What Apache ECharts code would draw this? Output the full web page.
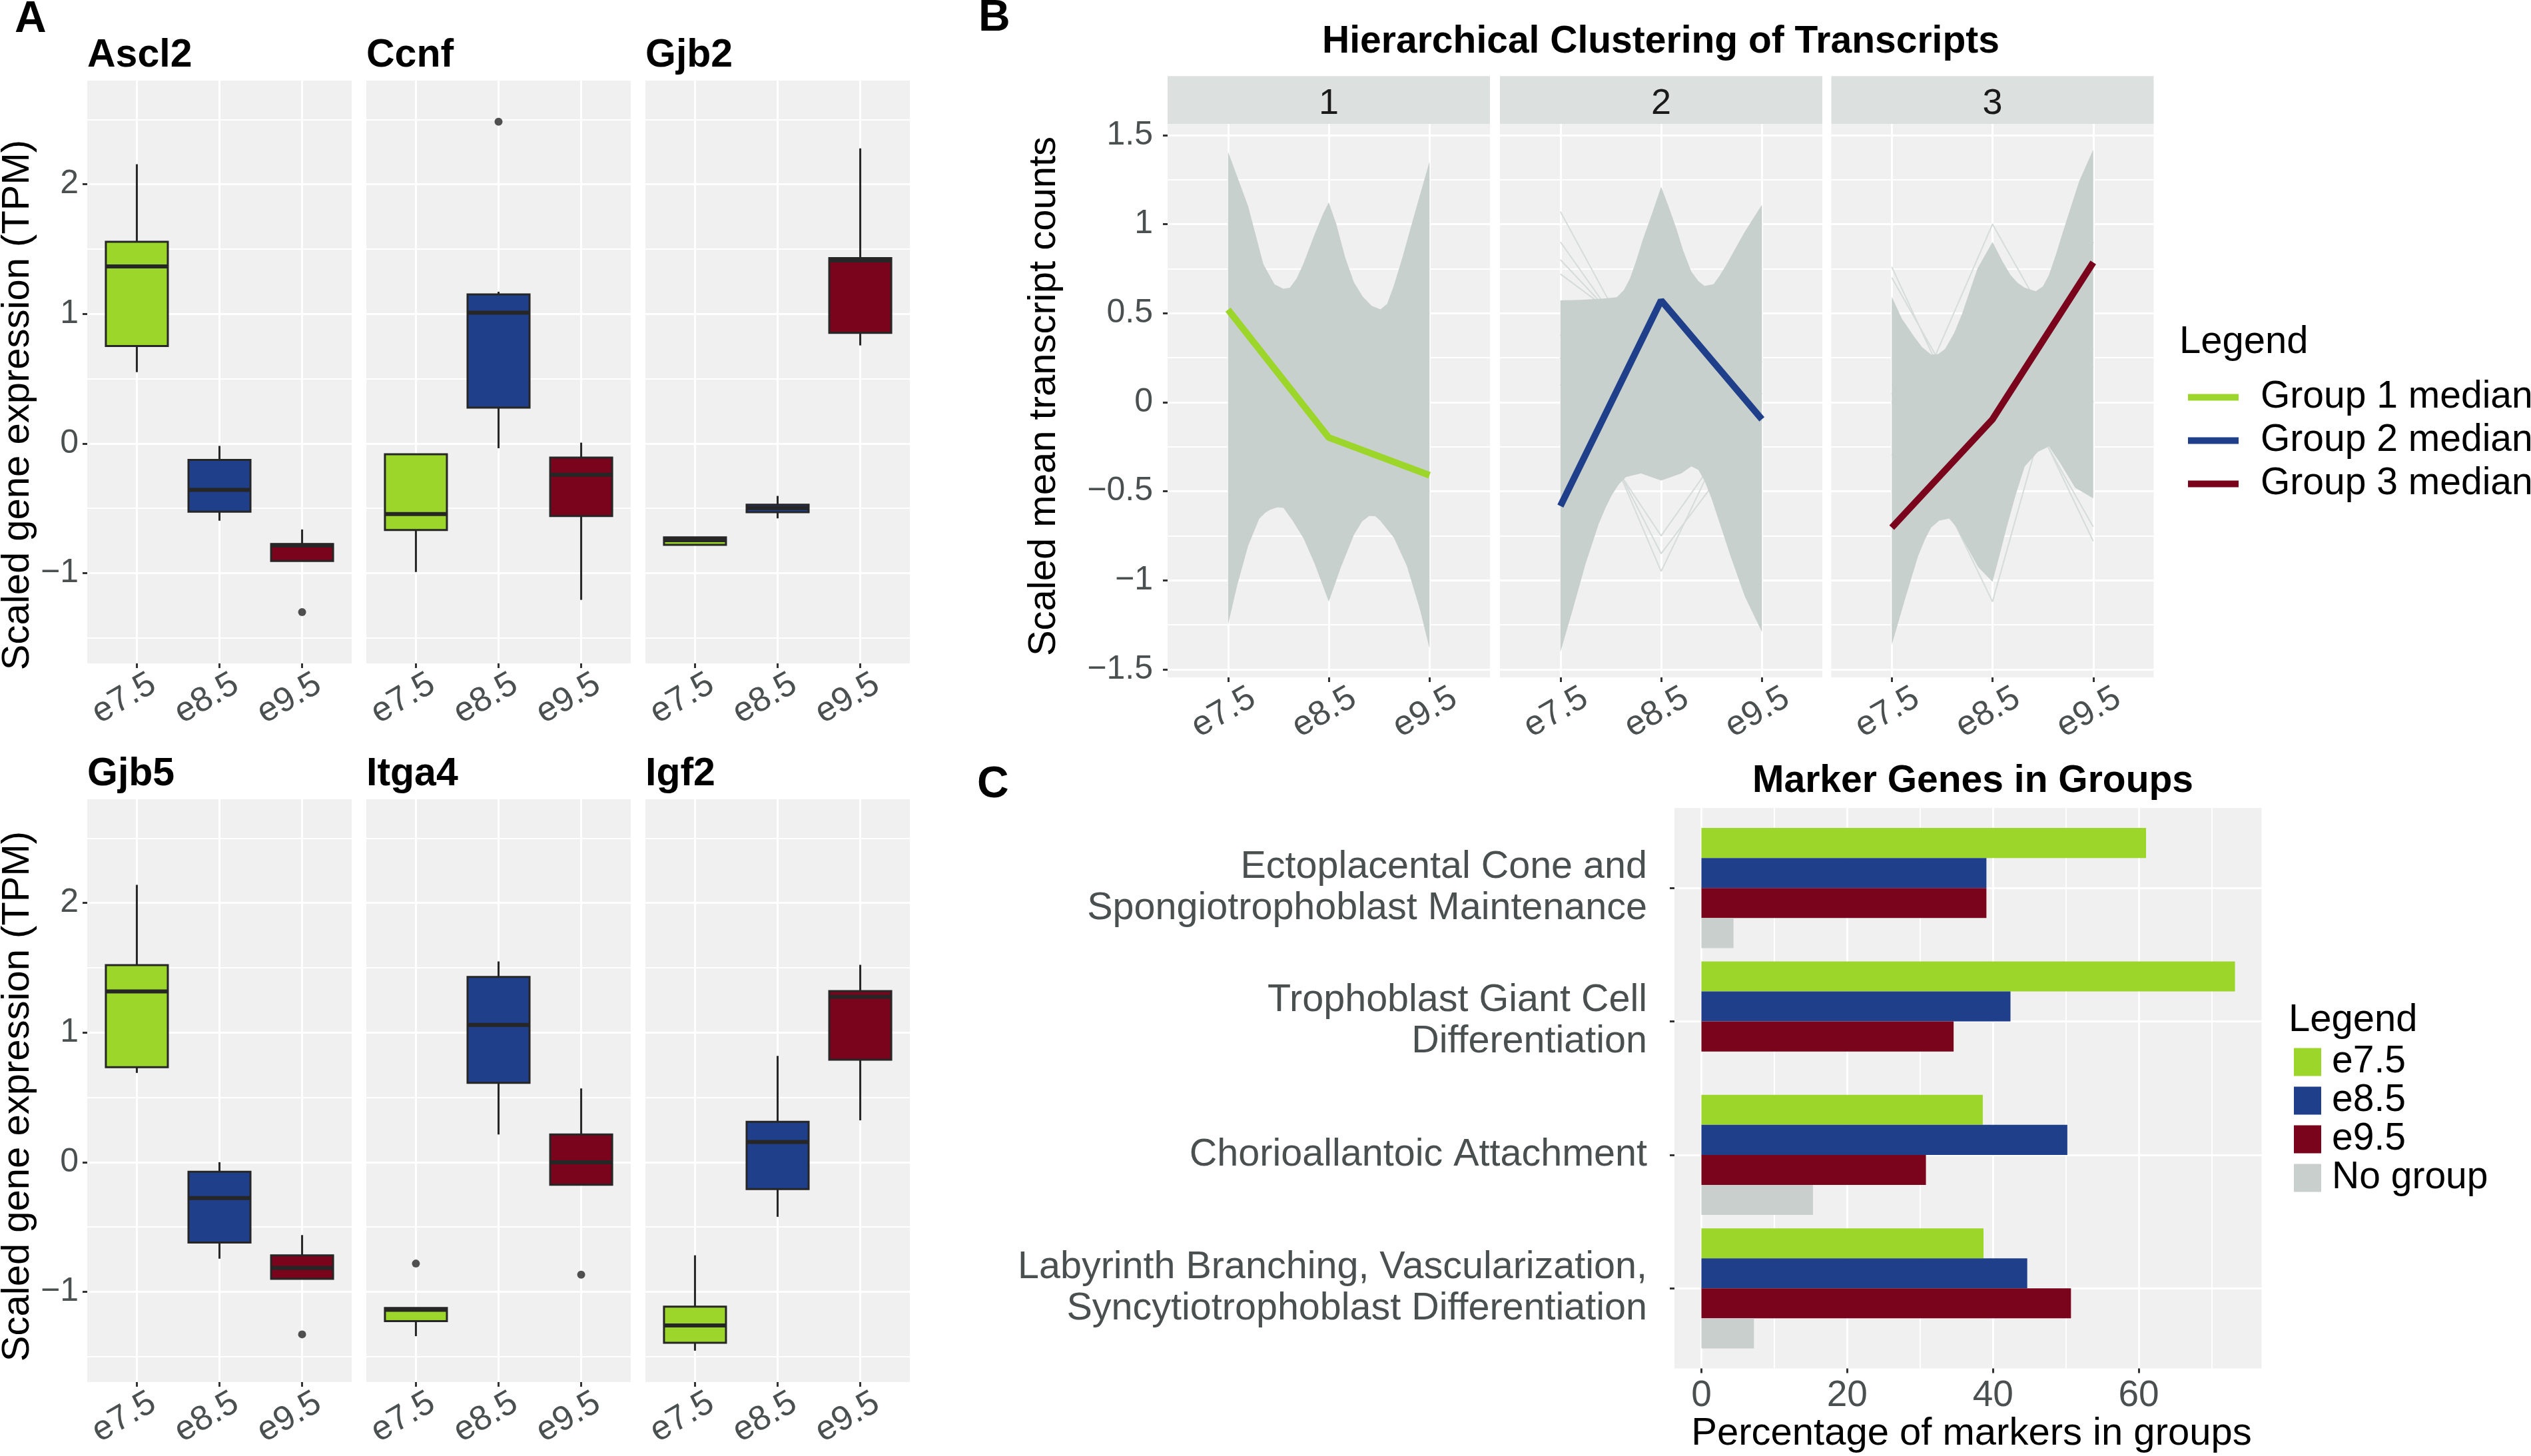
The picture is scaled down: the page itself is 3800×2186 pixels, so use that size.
<!DOCTYPE html>
<html><head><meta charset="utf-8">
<script src="https://cdn.jsdelivr.net/npm/echarts@6/dist/echarts.min.js"></script>
<style>html,body{margin:0;padding:0;background:#fff}#c{width:3800px;height:2186px}</style>
</head><body><div id="c"></div>
<script>
// ---------- DATA ----------
const stages = ['e7.5', 'e8.5', 'e9.5'];
// Panel A: box statistics per stage [stageIndex, min, Q1, median, Q3, max]
const ascl2Box = [[0, 0.551, 0.753, 1.366, 1.557, 2.155], [1, -0.595, -0.526, -0.357, -0.126, -0.018], [2, -0.906, -0.906, -0.785, -0.775, -0.663]];
const ascl2Out = [[2, -1.30]];
const ccnfBox = [[0, -0.991, -0.667, -0.544, -0.083, -0.083], [1, -0.036, 0.277, 1.009, 1.15, 1.171], [2, -1.206, -0.559, -0.241, -0.108, 0.007]];
const ccnfOut = [[1, 2.483]];
const gjb2Box = [[0, -0.781, -0.781, -0.745, -0.723, -0.723], [1, -0.577, -0.53, -0.497, -0.472, -0.404], [2, 0.757, 0.854, 1.413, 1.431, 2.277]];
const gjb2Out = [];
const gjb5Box = [[0, 0.689, 0.733, 1.317, 1.52, 2.14], [1, -0.744, -0.62, -0.276, -0.073, 0.0], [2, -0.9, -0.9, -0.816, -0.718, -0.562]];
const gjb5Out = [[2, -1.328]];
const itga4Box = [[0, -1.342, -1.226, -1.139, -1.124, -1.124], [1, 0.214, 0.613, 1.059, 1.429, 1.549], [2, -0.174, -0.174, 0.0, 0.214, 0.569]];
const itga4Out = [[0, -0.782], [2, -0.867]];
const igf2Box = [[0, -1.454, -1.393, -1.259, -1.114, -0.718], [1, -0.421, -0.207, 0.156, 0.312, 0.82], [2, 0.323, 0.791, 1.277, 1.32, 1.523]];
const igf2Out = [];
const geneNames = ['Ascl2', 'Ccnf', 'Gjb2', 'Gjb5', 'Itga4', 'Igf2'];
const aYTicks = [-1, 0, 1, 2];
const aYMinor = [-1.5, -0.5, 0.5, 1.5, 2.5];

// Panel B: envelope of the transcript lines per cluster ([stage position, value]) and cluster medians
const g1Upper = [[0, 1.407], [0.2, 1.10], [0.351, 0.775], [0.461, 0.663], [0.548, 0.637], [0.614, 0.643], [0.68, 0.694], [0.746, 0.775], [0.855, 0.937], [0.943, 1.058], [1, 1.123],
  [1.075, 1.0], [1.162, 0.815], [1.25, 0.673], [1.338, 0.592], [1.425, 0.542], [1.513, 0.521], [1.579, 0.552], [1.645, 0.653], [1.732, 0.815], [1.842, 1.038], [2, 1.352]];
const g1Lower = [[0, -1.25], [0.09, -1.03], [0.2, -0.805], [0.31, -0.654], [0.37, -0.62], [0.42, -0.603], [0.49, -0.59], [0.55, -0.593], [0.64, -0.664], [0.75, -0.765], [0.86, -0.907], [1, -1.12],
  [1.12, -0.927], [1.25, -0.745], [1.33, -0.67], [1.4, -0.639], [1.46, -0.64], [1.51, -0.664], [1.645, -0.76], [1.776, -0.92], [1.908, -1.17], [2, -1.383]];
const g2Upper = [[0, 0.572], [0.2, 0.575], [0.43, 0.582], [0.56, 0.59], [0.63, 0.63], [0.69, 0.694], [0.75, 0.79], [0.82, 0.917], [0.91, 1.06], [1, 1.21],
  [1.08, 1.09], [1.15, 0.977], [1.22, 0.85], [1.3, 0.734], [1.37, 0.68], [1.43, 0.653], [1.52, 0.663], [1.58, 0.71], [1.65, 0.775], [1.74, 0.866], [1.83, 0.957], [2, 1.109]];
const g2Lower = [[0, -1.403], [0.12, -1.17], [0.25, -0.907], [0.38, -0.684], [0.45, -0.59], [0.51, -0.522], [0.58, -0.46], [0.65, -0.42], [0.8, -0.40], [1, -0.44],
  [1.2, -0.40], [1.3, -0.36], [1.37, -0.38], [1.43, -0.44], [1.5, -0.54], [1.56, -0.643], [1.69, -0.866], [1.83, -1.09], [2, -1.29]];
const g3Upper = [[0, 0.592], [0.1, 0.47], [0.22, 0.37], [0.3, 0.31], [0.39, 0.268], [0.46, 0.27], [0.53, 0.30], [0.62, 0.39], [0.7, 0.50], [0.85, 0.75], [1, 0.90],
  [1.1, 0.79], [1.18, 0.714], [1.25, 0.67], [1.32, 0.643], [1.43, 0.623], [1.5, 0.65], [1.56, 0.714], [1.63, 0.83], [1.71, 0.977], [1.86, 1.24], [2, 1.419]];
const g3Lower = [[0, -1.363], [0.13, -1.109], [0.26, -0.866], [0.33, -0.77], [0.39, -0.704], [0.47, -0.665], [0.57, -0.653], [0.64, -0.7], [0.7, -0.765], [0.86, -0.927], [1, -1.008],
  [1.07, -0.86], [1.14, -0.704], [1.23, -0.52], [1.32, -0.36], [1.45, -0.279], [1.56, -0.248], [1.67, -0.34], [1.82, -0.48], [2, -0.54]];
// a few isolated transcripts outside the dense band
const g1Fringe = [];
const g2Fringe = [[1.07, 0.03, -0.2], [0.9, 0.1, 0.0], [0.8, 0.2, -0.1], [0.72, 0.3, 0.2], [0.38, -0.95, 0.23], [0.1, -0.75, 0.05], [0.25, -0.85, -0.1]];
const g3Fringe = [[0.76, -0.46, 0.2], [0.70, -0.3, 0.3], [-0.3, 1.0, 0.0], [0.05, -1.12, 0.9], [0.0, 0.4, -0.78], [0.1, 0.3, -0.7]];
const g1Median = [0.52, -0.198, -0.41];
const g2Median = [-0.583, 0.572, -0.096];
const g3Median = [-0.704, -0.096, 0.785];
const groupNames = ['Group 1 median', 'Group 2 median', 'Group 3 median'];
const bYTicks = [-1.5, -1, -0.5, 0, 0.5, 1, 1.5];
const bYMinor = [-1.25, -0.75, -0.25, 0.25, 0.75, 1.25];

// Panel C
const cCategories = ['Ectoplacental Cone and\nSpongiotrophoblast Maintenance', 'Trophoblast Giant Cell\nDifferentiation', 'Chorioallantoic Attachment', 'Labyrinth Branching, Vascularization,\nSyncytiotrophoblast Differentiation'];
const cE75 = [61.0, 73.2, 38.6, 38.7];
const cE85 = [39.1, 42.4, 50.2, 44.7];
const cE95 = [39.1, 34.6, 30.8, 50.7];
const cNoGroup = [4.4, 0, 15.3, 7.2];
const cSeriesNames = ['e7.5', 'e8.5', 'e9.5', 'No group'];
const cXTicks = [0, 20, 40, 60];
const cXMinor = [10, 30, 50, 70];

// ---------- STYLE ----------
const FONT = '"Liberation Sans", Arial, Helvetica, sans-serif';
const GREEN = '#9DD62B', BLUE = '#1F3F8A', RED = '#7A041B', NOGRP = '#C8CFCD';
const stageColors = [GREEN, BLUE, RED];
const BAND = '#C8D0CE', FRINGE = '#D6DCDB';
const PANEL = '#EFF0EF', STRIP = '#DCE1E0';
const TICKC = '#4A4F4F', INK = '#262626';
const minus = v => String(v).replace('-', '\u2212');

const grids = [], xAxes = [], yAxes = [], series = [], graphics = [];

function addText(text, x, y, opt) {
  opt = opt || {};
  graphics.push({
    type: 'text', x: x, y: y, rotation: opt.rotation || 0, z: 100,
    style: {
      text: text, fill: opt.color || '#000',
      font: (opt.bold ? 'bold ' : '') + (opt.size || 57) + 'px ' + FONT,
      textAlign: opt.align || 'left', align: opt.align || 'left',
      textVerticalAlign: 'middle', verticalAlign: 'middle'
    }
  });
}

function addGrid(left, top, width, height) {
  grids.push({left: left, top: top, width: width, height: height, show: true, backgroundColor: PANEL, borderWidth: 0, outerBoundsMode: 'none', containLabel: false});
  return grids.length - 1;
}

function stageXAxis(gi, pad, margin) {
  xAxes.push({
    type: 'value', gridIndex: gi, min: -0.6, max: 2.6, position: 'bottom',
    axisLine: {show: false, onZero: false},
    axisTick: {show: true, customValues: [0, 1, 2], length: 7, lineStyle: {color: '#333', width: 3}},
    axisLabel: {customValues: [0, 1, 2], formatter: v => stages[Math.round(v)], rotate: 30, align: 'center', verticalAlign: 'top',
      padding: [0, pad, 0, 0], margin: margin, fontSize: 52, color: TICKC, fontFamily: FONT},
    splitLine: {show: true, lineStyle: {color: '#fff', width: 3}}
  });
  return xAxes.length - 1;
}

function valueYAxes(gi, min, max, ticks, minor, showLabels, fmt, margin) {
  yAxes.push({
    type: 'value', gridIndex: gi, min: min, max: max, position: 'left',
    axisLine: {show: false, onZero: false},
    axisTick: {show: showLabels, customValues: ticks, length: 7, lineStyle: {color: '#333', width: 3}},
    axisLabel: {show: showLabels, customValues: ticks, formatter: fmt, fontSize: 50, color: TICKC, fontFamily: FONT, margin: margin},
    splitLine: {show: true, lineStyle: {color: '#fff', width: 3}}
  });
  const major = yAxes.length - 1;
  yAxes.push({
    type: 'value', gridIndex: gi, min: min, max: max, position: 'right',
    axisLine: {show: false, onZero: false},
    axisTick: {show: false, customValues: minor},
    axisLabel: {show: false, customValues: minor},
    splitLine: {show: true, lineStyle: {color: '#fff', width: 1.8}}
  });
  return major;
}

// ---------- PANEL A ----------
function renderBox(params, api) {
  const x = api.value(0);
  const lo = api.coord([x, api.value(1)]);
  const q1 = api.coord([x, api.value(2)]);
  const md = api.coord([x, api.value(3)]);
  const q3 = api.coord([x, api.value(4)]);
  const hi = api.coord([x, api.value(5)]);
  const half = api.size([0.375, 0])[0];
  const c = stageColors[Math.round(x)];
  return {type: 'group', children: [
    {type: 'line', shape: {x1: lo[0], y1: lo[1], x2: q1[0], y2: q1[1]}, style: {stroke: INK, lineWidth: 3}},
    {type: 'line', shape: {x1: q3[0], y1: q3[1], x2: hi[0], y2: hi[1]}, style: {stroke: INK, lineWidth: 3}},
    {type: 'rect', shape: {x: q3[0] - half, y: q3[1], width: half * 2, height: q1[1] - q3[1]}, style: {fill: c, stroke: INK, lineWidth: 3}},
    {type: 'line', shape: {x1: md[0] - half, y1: md[1], x2: md[0] + half, y2: md[1]}, style: {stroke: INK, lineWidth: 6}}
  ]};
}
const aBoxes = [ascl2Box, ccnfBox, gjb2Box, gjb5Box, itga4Box, igf2Box];
const aOuts = [ascl2Out, ccnfOut, gjb2Out, gjb5Out, itga4Out, igf2Out];
const aCols = [131, 550, 969], aRows = [121, 1200];
for (let i = 0; i < 6; i++) {
  const row = Math.floor(i / 3), col = i % 3;
  const gi = addGrid(aCols[col], aRows[row], 397, 875);
  const xi = stageXAxis(gi, 74, 12);
  const yi = valueYAxes(gi, -1.696, 2.80, aYTicks, aYMinor, col === 0, minus, 13);
  series.push({type: 'custom', xAxisIndex: xi, yAxisIndex: yi, data: aBoxes[i], encode: {x: 0, y: [1, 2, 3, 4, 5]}, renderItem: renderBox, silent: true, z: 3});
  series.push({type: 'scatter', xAxisIndex: xi, yAxisIndex: yi, data: aOuts[i], symbolSize: 12, itemStyle: {color: INK}, silent: true, z: 4});
  addText(geneNames[i], aCols[col], row === 0 ? 84 : 1163, {bold: true, size: 59});
}
addText('Scaled gene expression (TPM)', 27, 608, {rotation: Math.PI / 2, align: 'center', size: 58});
addText('Scaled gene expression (TPM)', 27, 1646, {rotation: Math.PI / 2, align: 'center', size: 58});
addText('A', 22, 30, {bold: true, size: 66});

// ---------- PANEL B ----------
function makeBand(upper, lower) {
  return function (params, api) {
    const pts = [];
    upper.forEach(p => pts.push(api.coord([p[0], p[1]])));
    for (let i = lower.length - 1; i >= 0; i--) pts.push(api.coord([lower[i][0], lower[i][1]]));
    return {type: 'polygon', shape: {points: pts}, style: {fill: BAND}};
  };
}
const bUppers = [g1Upper, g2Upper, g3Upper], bLowers = [g1Lower, g2Lower, g3Lower];
const bFringes = [g1Fringe, g2Fringe, g3Fringe];
const bMedians = [g1Median, g2Median, g3Median];
const bLefts = [1753, 2252, 2749.5];
for (let k = 0; k < 3; k++) {
  const gi = addGrid(bLefts[k], 186, 484, 831);
  const xi = stageXAxis(gi, 45, 19);
  const yi = valueYAxes(gi, -1.545, 1.563, bYTicks, bYMinor, k === 0, minus, 22);
  bFringes[k].forEach(f => series.push({type: 'line', xAxisIndex: xi, yAxisIndex: yi, data: f.map((v, j) => [j, v]), symbol: 'none', silent: true, lineStyle: {color: FRINGE, width: 2}, z: 2}));
  series.push({type: 'custom', xAxisIndex: xi, yAxisIndex: yi, data: [[0, 0]], encode: {x: 0, y: 1}, renderItem: makeBand(bUppers[k], bLowers[k]), silent: true, z: 3});
  series.push({type: 'line', name: groupNames[k], xAxisIndex: xi, yAxisIndex: yi, data: bMedians[k].map((v, j) => [j, v]), symbol: 'none', silent: true,
    itemStyle: {color: stageColors[k]}, lineStyle: {color: stageColors[k], width: 10}, z: 5});
  graphics.push({type: 'rect', shape: {x: bLefts[k], y: 114.3, width: 484, height: 71.7}, style: {fill: STRIP}, z: 1});
  addText(String(k + 1), bLefts[k] + 242, 156, {align: 'center', size: 54, color: '#1a1a1a'});
}
addText('Hierarchical Clustering of Transcripts', 2493.5, 63, {bold: true, size: 57, align: 'center'});
addText('Scaled mean transcript counts', 1568, 595, {rotation: Math.PI / 2, align: 'center', size: 58});
addText('Legend', 3272, 514, {size: 58});
addText('B', 1469, 28, {bold: true, size: 66});

// ---------- PANEL C ----------
const BAR_HALF = 0.1125;
const cOffsets = [-0.3375, -0.1125, 0.1125, 0.3375];
const cValues = [cE75, cE85, cE95, cNoGroup];
const cColors = [GREEN, BLUE, RED, NOGRP];
const cg = addGrid(2514, 1213, 881.5, 841.5);
xAxes.push({
  type: 'value', gridIndex: cg, min: -3.7, max: 76.85, position: 'bottom',
  axisLine: {show: false, onZero: false},
  axisTick: {show: true, customValues: cXTicks, length: 7, lineStyle: {color: '#333', width: 3}},
  axisLabel: {customValues: cXTicks, fontSize: 55, color: TICKC, fontFamily: FONT, margin: 14},
  splitLine: {show: true, lineStyle: {color: '#fff', width: 3}}
});
const cxi = xAxes.length - 1;
xAxes.push({
  type: 'value', gridIndex: cg, min: -3.7, max: 76.85, position: 'top',
  axisLine: {show: false, onZero: false}, axisTick: {show: false, customValues: cXMinor}, axisLabel: {show: false, customValues: cXMinor},
  splitLine: {show: true, lineStyle: {color: '#fff', width: 1.8}}
});
yAxes.push({
  type: 'value', gridIndex: cg, min: -0.6, max: 3.6, inverse: true, position: 'left',
  axisLine: {show: false, onZero: false},
  axisTick: {show: true, customValues: [0, 1, 2, 3], length: 7, lineStyle: {color: '#333', width: 3}},
  axisLabel: {customValues: [0, 1, 2, 3], formatter: v => cCategories[Math.round(v)], fontSize: 57.5, lineHeight: 62, align: 'right',
    color: TICKC, fontFamily: FONT, margin: 41},
  splitLine: {show: true, lineStyle: {color: '#fff', width: 3}}
});
const cyi = yAxes.length - 1;
function makeBars(offset) {
  return function (params, api) {
    const cat = api.value(0), val = api.value(1);
    const a = api.coord([0, cat + offset - BAR_HALF]);
    const b = api.coord([val, cat + offset + BAR_HALF]);
    return {type: 'rect', shape: {x: Math.min(a[0], b[0]), y: Math.min(a[1], b[1]), width: Math.abs(b[0] - a[0]), height: Math.abs(b[1] - a[1])},
      style: {fill: api.visual('color')}};
  };
}
for (let s = 0; s < 4; s++) {
  series.push({type: 'custom', name: cSeriesNames[s], xAxisIndex: cxi, yAxisIndex: cyi,
    data: cValues[s].map((v, i) => [i, v]), encode: {x: 1, y: 0}, itemStyle: {color: cColors[s]},
    renderItem: makeBars(cOffsets[s]), silent: true, z: 3});
}
addText('Marker Genes in Groups', 2962, 1173, {bold: true, size: 57, align: 'center'});
addText('Percentage of markers in groups', 2960, 2153, {align: 'center', size: 58});
addText('Legend', 3436, 1532, {size: 58});
addText('C', 1467, 1179, {bold: true, size: 66});

const option = {
  animation: false,
  backgroundColor: '#fff',
  grid: grids, xAxis: xAxes, yAxis: yAxes, series: series,
  legend: [
    {data: groupNames, left: 3280, top: 563, orient: 'vertical', icon: 'rect', itemWidth: 76, itemHeight: 10, itemGap: 8,
      selectedMode: false, textStyle: {fontSize: 57, color: '#000', fontFamily: FONT, lineHeight: 53, padding: [0, 0, 0, 28]}},
    {data: cSeriesNames, left: 3439, top: 1561, orient: 'vertical', icon: 'rect', itemWidth: 41, itemHeight: 42, itemGap: 1,
      selectedMode: false, textStyle: {fontSize: 57, color: '#000', fontFamily: FONT, lineHeight: 50, padding: [0, 0, 0, 11]}}
  ],
  graphic: graphics
};
const chart = echarts.init(document.getElementById('c'), null, {renderer: 'canvas', width: 3800, height: 2186});
chart.setOption(option);
</script></body></html>
